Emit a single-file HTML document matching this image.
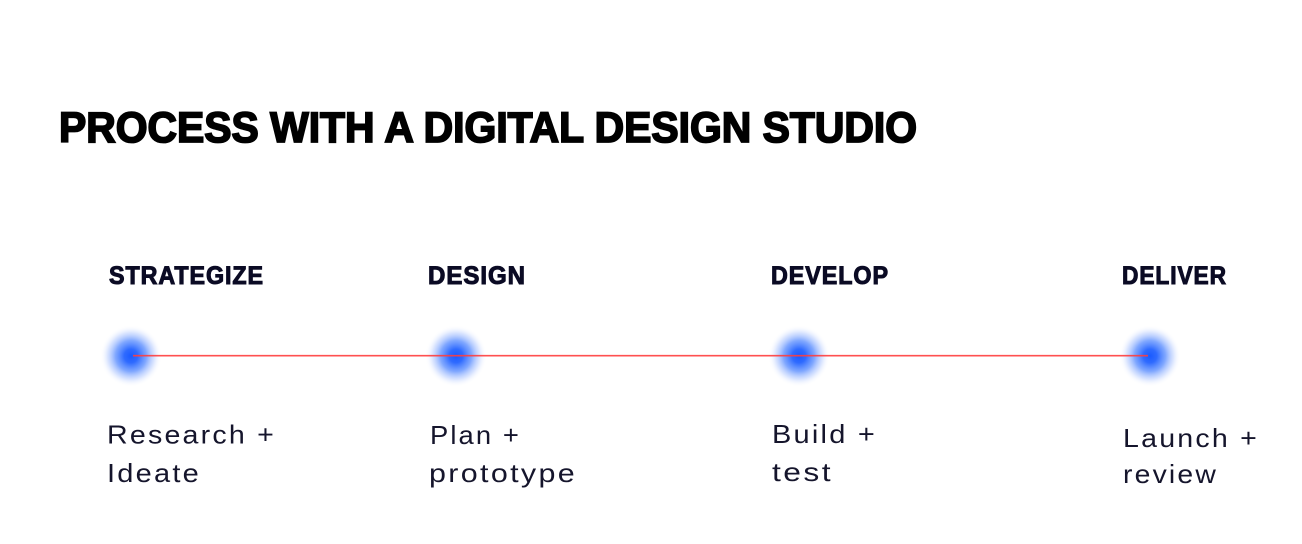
<!DOCTYPE html>
<html>
<head>
<meta charset="utf-8">
<style>
  html, body { margin: 0; padding: 0; background: #ffffff; }
  body { width: 1302px; height: 544px; overflow: hidden; }
  svg { display: block; }
  .title { font-family: "Liberation Sans", Arial, sans-serif; font-weight: bold; font-size: 43px; fill: #000; stroke: #000; stroke-width: 1.8; }
  .head { font-family: "Liberation Sans", Arial, sans-serif; font-weight: bold; font-size: 25px; fill: #0b0b24; stroke: #0b0b24; stroke-width: 1.0; letter-spacing: 1px; }
  .body { font-family: "Liberation Sans", Arial, sans-serif; font-size: 26px; fill: #15152c; letter-spacing: 2px; }
</style>
</head>
<body>
<svg width="1302" height="544" viewBox="0 0 1302 544" xmlns="http://www.w3.org/2000/svg">
  <defs>
    <radialGradient id="dot" cx="50%" cy="50%" r="50%">
      <stop offset="0%" stop-color="#1a5aff" stop-opacity="1"/>
      <stop offset="22%" stop-color="#2463ff" stop-opacity="0.95"/>
      <stop offset="50%" stop-color="#4a82ff" stop-opacity="0.7"/>
      <stop offset="75%" stop-color="#8fb0ff" stop-opacity="0.35"/>
      <stop offset="90%" stop-color="#cddbff" stop-opacity="0.12"/>
      <stop offset="100%" stop-color="#ffffff" stop-opacity="0"/>
    </radialGradient>
  </defs>

  <rect width="1302" height="544" fill="#ffffff"/>

  <!-- Title -->
  <text class="title" x="59" y="142" textLength="858" lengthAdjust="spacingAndGlyphs">PROCESS WITH A DIGITAL DESIGN STUDIO</text>

  <!-- Stage headings -->
  <text class="head" x="109" y="284" textLength="155" lengthAdjust="spacingAndGlyphs">STRATEGIZE</text>
  <text class="head" x="428" y="284" textLength="98" lengthAdjust="spacingAndGlyphs">DESIGN</text>
  <text class="head" x="771" y="284" textLength="118" lengthAdjust="spacingAndGlyphs">DEVELOP</text>
  <text class="head" x="1122" y="284" textLength="105" lengthAdjust="spacingAndGlyphs">DELIVER</text>

  <!-- Dots -->
  <circle cx="131" cy="356" r="31" fill="url(#dot)"/>
  <circle cx="456" cy="356" r="31" fill="url(#dot)"/>
  <circle cx="799" cy="356" r="31" fill="url(#dot)"/>
  <circle cx="1150" cy="356" r="31" fill="url(#dot)"/>

  <!-- Connecting line -->
  <line x1="133" y1="355.7" x2="1148" y2="355.7" stroke="#ff3d3d" stroke-width="1.6" stroke-opacity="0.9"/>

  <!-- Descriptions -->
  <text class="body" x="107" y="443.5" textLength="169" lengthAdjust="spacingAndGlyphs">Research +</text>
  <text class="body" x="107" y="482" textLength="94" lengthAdjust="spacingAndGlyphs">Ideate</text>

  <text class="body" x="430" y="444" textLength="91" lengthAdjust="spacingAndGlyphs">Plan +</text>
  <text class="body" x="429" y="482" textLength="148" lengthAdjust="spacingAndGlyphs">prototype</text>

  <text class="body" x="772" y="443" textLength="105" lengthAdjust="spacingAndGlyphs">Build +</text>
  <text class="body" x="772" y="481" textLength="61" lengthAdjust="spacingAndGlyphs">test</text>

  <text class="body" x="1123" y="447" textLength="136" lengthAdjust="spacingAndGlyphs">Launch +</text>
  <text class="body" x="1123" y="483" textLength="95" lengthAdjust="spacingAndGlyphs">review</text>
</svg>
</body>
</html>
